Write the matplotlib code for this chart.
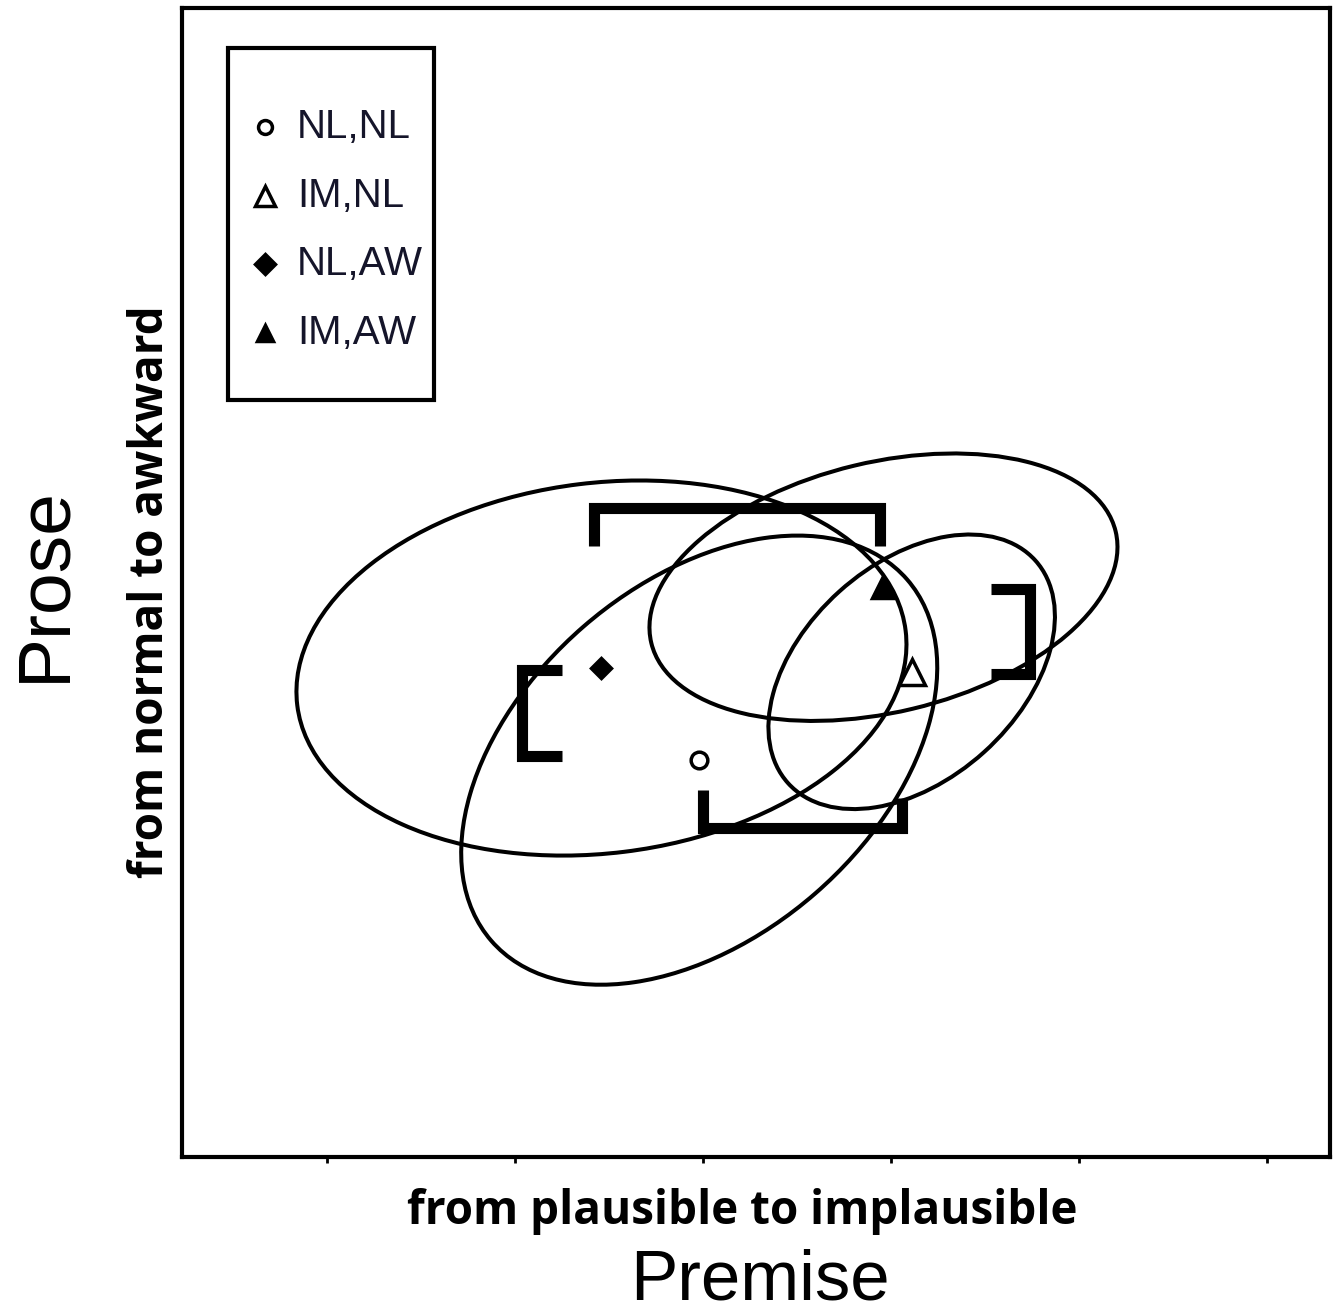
import matplotlib
matplotlib.use("Agg")
import matplotlib.pyplot as plt
from matplotlib.patches import Ellipse, Rectangle

# group means (premise, prose) and the spread ellipses drawn around them
groups = ["NL,NL", "IM,NL", "NL,AW", "IM,AW"]
mean_x = [-0.02, 1.11, -0.54, 0.96]
mean_y = [-0.32, 0.15, 0.17, 0.60]
ell_w = [2.93, 1.77, 3.26, 2.54]
ell_h = [1.88, 1.15, 1.97, 1.33]
ell_angle = [41, 42, 7, 13.5]
markers = ["o", "^", "D", "^"]
filled = [False, False, True, True]
plot_ms = [12, 19, 10, 16]
leg_ms = [10, 14, 10, 12]

# bracket shaped range marks
brk_top_x = [-0.58, -0.58, 0.94, 0.94]
brk_top_y = [0.82, 1.02, 1.02, 0.82]
brk_left_x = [-0.75, -0.96, -0.96, -0.75]
brk_left_y = [0.16, 0.16, -0.30, -0.30]
brk_bottom_x = [0.0, 0.0, 1.06, 1.06]
brk_bottom_y = [-0.48, -0.68, -0.68, -0.52]
brk_right_x = [1.53, 1.74, 1.74, 1.53]
brk_right_y = [0.59, 0.59, 0.14, 0.14]

x_ticks = [-2, -1, 0, 1, 2, 3]

W, H = 1337, 1315
fig = plt.figure(figsize=(W / 100, H / 100), dpi=100)
ax = fig.add_axes([182 / W, 1 - 1157 / H, 1148 / W, 1149 / H])
ax.set_xlim(-2.771, 3.335)
ax.set_ylim(-2.431, 3.681)

for i in range(len(groups)):
    e = Ellipse((mean_x[i], mean_y[i]), ell_w[i], ell_h[i], angle=ell_angle[i],
                fill=False, edgecolor="black", linewidth=2.9)
    ax.add_patch(e)

for bx, by in [(brk_top_x, brk_top_y), (brk_left_x, brk_left_y),
               (brk_bottom_x, brk_bottom_y), (brk_right_x, brk_right_y)]:
    ax.plot(bx, by, color="black", linewidth=8,
            solid_joinstyle="miter", solid_capstyle="butt")

for i in range(len(groups)):
    fc = "black" if filled[i] else "white"
    ax.plot(mean_x[i], mean_y[i], marker=markers[i], ms=plot_ms[i],
            mfc=fc, mec="black", mew=2.5, linestyle="none", zorder=5)

# legend box
ax.add_patch(Rectangle((0.0401, 0.6588), 0.1794, 0.3064, transform=ax.transAxes,
                       fill=False, edgecolor="black", linewidth=3, zorder=6))
leg_rows = [0.8964, 0.8364, 0.7772, 0.7171]
for i in range(len(groups)):
    fc = "black" if filled[i] else "white"
    ax.plot(0.0723, leg_rows[i], marker=markers[i], ms=leg_ms[i], mfc=fc,
            mec="black", mew=2.5, transform=ax.transAxes, zorder=7)
    ax.text(0.1002, leg_rows[i], groups[i], transform=ax.transAxes,
            fontsize=29, family="Liberation Sans", color="#15152a",
            ha="left", va="center", zorder=7)

for s in ax.spines.values():
    s.set_linewidth(3)
ax.set_xticks(x_ticks)
ax.set_yticks([])
ax.tick_params(axis="x", direction="out", length=4, width=2, labelbottom=False)

fig.text(64 / W, 1 - 584 / H, "Prose", rotation=90, rotation_mode="anchor",
         ha="center", va="baseline", fontsize=54, family="Liberation Sans")
fig.text(163 / W, 1 - 592 / H, "from normal to awkward", rotation=90,
         rotation_mode="anchor", ha="center", va="baseline", fontsize=33,
         family="Open Sans", fontweight="bold")
fig.text(742 / W, 1 - 1224 / H, "from plausible to implausible", ha="center",
         va="baseline", fontsize=33, family="Open Sans", fontweight="bold")
fig.text(760 / W, 1 - 1300 / H, "Premise", ha="center", va="baseline",
         fontsize=51, family="Liberation Sans")

fig.savefig("out.png", dpi=100)
